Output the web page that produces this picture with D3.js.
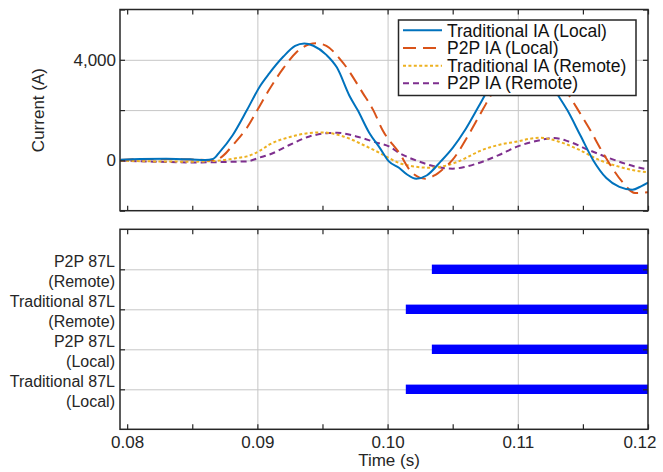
<!DOCTYPE html>
<html>
<head>
<meta charset="utf-8">
<script src="https://cdn.jsdelivr.net/npm/d3@7"></script>
<style>
  html, body { margin: 0; padding: 0; background: #fff; }
  svg { display: block; font-family: "Liberation Sans", Arial, sans-serif; }
</style>
</head>
<body>
<svg id="chart" width="663" height="472"></svg>
<script>
// ---------------- DATA ----------------
const timeTradLocal = [0.0795, 0.0810, 0.0830, 0.0850, 0.0860, 0.0866, 0.0871, 0.0881, 0.0892, 0.0902, 0.0909, 0.0920, 0.0929, 0.0936, 0.0943, 0.0953, 0.0961, 0.0971, 0.0977, 0.0986, 0.0994, 0.1001, 0.1009, 0.1015, 0.1022, 0.1030, 0.1041, 0.1050, 0.1060, 0.1070, 0.1080, 0.1090, 0.1102, 0.1114, 0.1124, 0.1131, 0.1138, 0.1148, 0.1158, 0.1168, 0.1178, 0.1188, 0.1195, 0.1200];
const currentTradLocal = [30, 60, 70, 40, 15, 60, 330, 1000, 2000, 2950, 3450, 4129, 4550, 4650, 4560, 4196, 3700, 2541, 2000, 1088, 500, -40, -302, -560, -727, -600, -30, 500, 1250, 2150, 3050, 3650, 3950, 3700, 3150, 2580, 2000, 1000, 0, -700, -1050, -1163, -1020, -885];

const timeP2PLocal = [0.0795, 0.0820, 0.0850, 0.0862, 0.0868, 0.0874, 0.0881, 0.0892, 0.0900, 0.0909, 0.0920, 0.0930, 0.0940, 0.0945, 0.0953, 0.0966, 0.0981, 0.0989, 0.0996, 0.1009, 0.1019, 0.1029, 0.1036, 0.1042, 0.1050, 0.1063, 0.1073, 0.1083, 0.1095, 0.1110, 0.1125, 0.1135, 0.1143, 0.1154, 0.1167, 0.1180, 0.1190, 0.1200];
const currentP2PLocal = [20, 60, 40, 10, 20, 200, 600, 1300, 2000, 2807, 3668, 4300, 4620, 4660, 4550, 3867, 2676, 2000, 1219, 294, -500, -727, -600, -370, 28, 1088, 2013, 2900, 3700, 3950, 3650, 2950, 2279, 1350, 159, -834, -1294, -1270];

const timeTradRemote = [0.0795, 0.0820, 0.0850, 0.0865, 0.0875, 0.0885, 0.0892, 0.0902, 0.0909, 0.0925, 0.0940, 0.0950, 0.0966, 0.0981, 0.0994, 0.1001, 0.1009, 0.1020, 0.1031, 0.1040, 0.1052, 0.1061, 0.1070, 0.1086, 0.1100, 0.1108, 0.1117, 0.1131, 0.1147, 0.1162, 0.1177, 0.1190, 0.1200];
const currentTradRemote = [-10, -40, -50, -30, 20, 100, 159, 385, 623, 929, 1088, 1112, 953, 623, 294, 95, -103, -240, -290, -260, -90, 120, 357, 623, 754, 850, 900, 754, 425, 28, -238, -400, -476];

const timeP2PRemote = [0.0795, 0.0820, 0.0850, 0.0870, 0.0885, 0.0892, 0.0902, 0.0909, 0.0925, 0.0940, 0.0955, 0.0961, 0.0976, 0.0991, 0.1001, 0.1009, 0.1024, 0.1037, 0.1050, 0.1060, 0.1070, 0.1086, 0.1100, 0.1116, 0.1128, 0.1139, 0.1154, 0.1170, 0.1185, 0.1200];
const currentP2PRemote = [-10, -50, -80, -70, -50, -40, 119, 226, 623, 953, 1088, 1100, 953, 715, 556, 294, -40, -250, -330, -250, -103, 226, 556, 794, 890, 754, 425, 95, -171, -369];

const seriesNames = ["Traditional IA (Local)", "P2P IA (Local)", "Traditional IA (Remote)", "P2P IA (Remote)"];

const tripLabels = [["Traditional 87L", "(Local)"], ["P2P 87L", "(Local)"], ["Traditional 87L", "(Remote)"], ["P2P 87L", "(Remote)"]];
const tripLevels = [1, 2, 3, 4];
const tripStart = [0.1014, 0.1034, 0.1014, 0.1034];
const tripEnd = [0.12, 0.12, 0.12, 0.12];

const xMajorTicks = [0.08, 0.09, 0.10, 0.11, 0.12];
const xMinorTicks = [0.085, 0.095, 0.105, 0.115];
const yTicks = [-2000, 0, 2000, 4000, 6000];
const yLabelTicks = [0, 4000];

// ---------------- LAYOUT ----------------
const svg = d3.select("#chart");
const L = 120, R = 648;
const top1 = 9.5, bot1 = 210.7;
const top2 = 229.3, bot2 = 429.3;
const frameColor = "#262626";
const gridColor = "#c6c6c6";
const fontSize = 17;

const x = d3.scaleLinear().domain([0.07945, 0.12]).range([L, R]);
const y1 = d3.scaleLinear().domain([-2000, 6000]).range([bot1, top1]);
const y2 = d3.scaleLinear().domain([0, 5]).range([bot2, top2]);

const colors = ["#0072BD", "#D95319", "#EDB120", "#7E2F8E"];
const dashes = [null, "13,7", "3,2.4", "6,4"];
const widths = [2, 2, 2, 2];

svg.append("defs").append("clipPath").attr("id", "clip1")
  .append("rect").attr("x", L).attr("y", top1).attr("width", R - L).attr("height", bot1 - top1);

function styleAxis(g) {
  g.select(".domain").remove();
  g.selectAll(".tick line").attr("stroke", frameColor).attr("stroke-width", 1.2);
  g.selectAll(".tick text").attr("fill", "#262626").attr("font-size", fontSize)
    .attr("font-family", "Liberation Sans, Arial, sans-serif");
}

// ---------- TOP PANEL ----------
const p1 = svg.append("g");
// grid
p1.append("g").attr("transform", `translate(0,${bot1})`)
  .call(d3.axisBottom(x).tickValues([0.09, 0.10, 0.11]).tickSize(-(bot1 - top1)).tickFormat(""))
  .call(g => { g.select(".domain").remove(); g.selectAll("line").attr("stroke", gridColor).attr("stroke-width", 1); });
p1.append("g").attr("transform", `translate(${L},0)`)
  .call(d3.axisLeft(y1).tickValues([0, 2000, 4000]).tickSize(-(R - L)).tickFormat(""))
  .call(g => { g.select(".domain").remove(); g.selectAll("line").attr("stroke", gridColor).attr("stroke-width", 1); });

// lines
const seriesData = [
  [timeTradLocal, currentTradLocal],
  [timeP2PLocal, currentP2PLocal],
  [timeTradRemote, currentTradRemote],
  [timeP2PRemote, currentP2PRemote]
];
const line = d3.line().x(d => x(d[0])).y(d => y1(d[1])).curve(d3.curveMonotoneX);
const drawOrder = [3, 2, 1, 0];
drawOrder.forEach(i => {
  const pts = seriesData[i][0].map((t, k) => [t, seriesData[i][1][k]]);
  p1.append("path").datum(pts)
    .attr("clip-path", "url(#clip1)")
    .attr("d", line)
    .attr("fill", "none")
    .attr("stroke", colors[i])
    .attr("stroke-width", widths[i])
    .attr("stroke-dasharray", dashes[i]);
});

// axes ticks (inside, all four sides)
const fmtY = d => yLabelTicks.includes(d) ? d3.format(",")(d) : "";
p1.append("g").attr("transform", `translate(${L},0)`)
  .call(d3.axisLeft(y1).tickValues(yTicks).tickSizeInner(-5).tickSizeOuter(0).tickPadding(4).tickFormat(fmtY))
  .call(styleAxis);
p1.append("g").attr("transform", `translate(${R},0)`)
  .call(d3.axisRight(y1).tickValues(yTicks).tickSizeInner(-5).tickSizeOuter(0).tickFormat(""))
  .call(styleAxis);
p1.append("g").attr("transform", `translate(0,${bot1})`)
  .call(d3.axisBottom(x).tickValues(xMajorTicks.concat(xMinorTicks)).tickSizeInner(-5).tickSizeOuter(0).tickFormat(""))
  .call(styleAxis);
p1.append("g").attr("transform", `translate(0,${top1})`)
  .call(d3.axisTop(x).tickValues(xMajorTicks.concat(xMinorTicks)).tickSizeInner(-5).tickSizeOuter(0).tickFormat(""))
  .call(styleAxis);

p1.append("rect").attr("x", L).attr("y", top1).attr("width", R - L).attr("height", bot1 - top1)
  .attr("fill", "none").attr("stroke", frameColor).attr("stroke-width", 1.5);

svg.append("text")
  .attr("transform", `translate(44,${(top1 + bot1) / 2}) rotate(-90)`)
  .attr("text-anchor", "middle")
  .attr("font-size", fontSize).attr("fill", "#262626")
  .text("Current (A)");

// legend
const lg = svg.append("g");
lg.append("rect").attr("x", 398.5).attr("y", 20).attr("width", 237.5).attr("height", 75.5)
  .attr("fill", "#fff").attr("stroke", frameColor).attr("stroke-width", 1.5);
const rowY = [30.3, 48, 65.7, 83.2];
seriesNames.forEach((name, i) => {
  lg.append("line").attr("x1", 403).attr("x2", 442).attr("y1", rowY[i]).attr("y2", rowY[i])
    .attr("stroke", colors[i]).attr("stroke-width", widths[i]).attr("stroke-dasharray", dashes[i]);
  lg.append("text").attr("x", 447).attr("y", rowY[i] + 6.2)
    .attr("font-size", 17.5).attr("fill", "#111").text(name);
});

// ---------- BOTTOM PANEL ----------
const p2 = svg.append("g");
p2.append("g").attr("transform", `translate(0,${bot2})`)
  .call(d3.axisBottom(x).tickValues([0.09, 0.10, 0.11]).tickSize(-(bot2 - top2)).tickFormat(""))
  .call(g => { g.select(".domain").remove(); g.selectAll("line").attr("stroke", gridColor).attr("stroke-width", 1); });
p2.append("g").attr("transform", `translate(${L},0)`)
  .call(d3.axisLeft(y2).tickValues(tripLevels).tickSize(-(R - L)).tickFormat(""))
  .call(g => { g.select(".domain").remove(); g.selectAll("line").attr("stroke", gridColor).attr("stroke-width", 1); });

// trip bars
p2.selectAll("rect.trip").data(tripLevels).enter().append("rect")
  .attr("class", "trip")
  .attr("x", (d, i) => x(tripStart[i]))
  .attr("width", (d, i) => x(tripEnd[i]) - x(tripStart[i]))
  .attr("y", d => y2(d) - 4.7)
  .attr("height", 9.4)
  .attr("fill", "#0000FF");

p2.append("g").attr("transform", `translate(${L},0)`)
  .call(d3.axisLeft(y2).tickValues(tripLevels).tickSizeInner(-5).tickSizeOuter(0).tickFormat(""))
  .call(styleAxis);
p2.append("g").attr("transform", `translate(${R},0)`)
  .call(d3.axisRight(y2).tickValues(tripLevels).tickSizeInner(-5).tickSizeOuter(0).tickFormat(""))
  .call(styleAxis);
p2.append("g").attr("transform", `translate(0,${top2})`)
  .call(d3.axisTop(x).tickValues(xMajorTicks.concat(xMinorTicks)).tickSizeInner(-5).tickSizeOuter(0).tickFormat(""))
  .call(styleAxis);
const xAxisB = p2.append("g").attr("transform", `translate(0,${bot2})`)
  .call(d3.axisBottom(x).tickValues(xMajorTicks.concat(xMinorTicks)).tickSizeInner(-5).tickSizeOuter(0).tickPadding(6.5)
    .tickFormat(d => xMajorTicks.some(m => Math.abs(m - d) < 1e-9) ? d3.format(".2f")(d) : ""))
  .call(styleAxis);
// keep the last label inside the picture, as in the reference
xAxisB.selectAll(".tick text").filter(d => Math.abs(d - 0.12) < 1e-9)
  .attr("text-anchor", "end").attr("dx", 8);

// category labels (two lines)
tripLevels.forEach((lev, i) => {
  const t = p2.append("text").attr("text-anchor", "end").attr("font-size", 16).attr("fill", "#262626");
  t.append("tspan").attr("x", 115).attr("y", y2(lev) - 2).text(tripLabels[i][0]);
  t.append("tspan").attr("x", 115).attr("y", y2(lev) + 17.5).text(tripLabels[i][1]);
});

p2.append("rect").attr("x", L).attr("y", top2).attr("width", R - L).attr("height", bot2 - top2)
  .attr("fill", "none").attr("stroke", frameColor).attr("stroke-width", 1.5);

svg.append("text")
  .attr("x", 389).attr("y", 465.5)
  .attr("text-anchor", "middle")
  .attr("font-size", fontSize).attr("fill", "#262626")
  .text("Time (s)");
</script>
</body>
</html>
